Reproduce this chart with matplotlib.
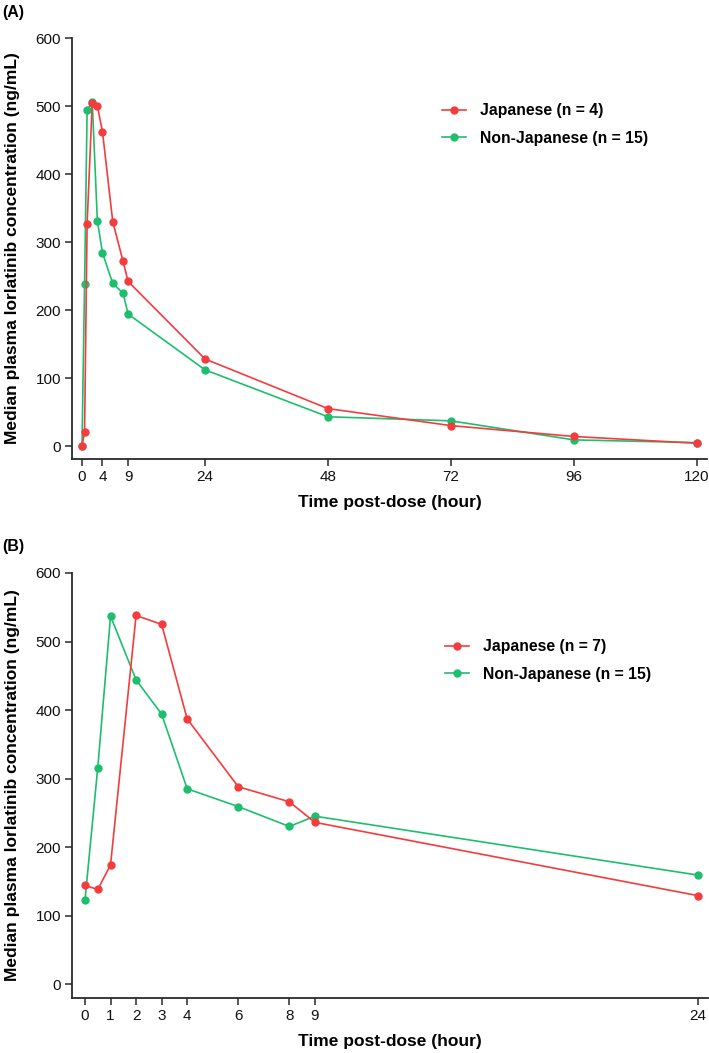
import matplotlib
matplotlib.use("Agg")
import matplotlib.pyplot as plt
from matplotlib import font_manager

names = {f.name for f in font_manager.fontManager.ttflist}
FONT = "Liberation Sans" if "Liberation Sans" in names else "DejaVu Sans"
plt.rcParams['font.family'] = [FONT, 'DejaVu Sans']

# ---------------- data ----------------
# Panel A
time_a = [0, 0.5, 1, 2, 3, 4, 6, 8, 9, 24, 48, 72, 96, 120]
jap_a = [0, 20, 327, 505, 500, 462, 330, 272, 242, 128, 55, 30, 14, 4]
nonjap_a = [0, 238, 494, 506, 331, 284, 239, 225, 194, 112, 43, 37, 9, 5]
xticks_a = [0, 4, 9, 24, 48, 72, 96, 120]
labels_a = ["Japanese (n = 4)", "Non-Japanese (n = 15)"]

# Panel B
time_b = [0, 0.5, 1, 2, 3, 4, 6, 8, 9, 24]
jap_b = [144, 138, 174, 538, 525, 387, 288, 266, 236, 129]
nonjap_b = [123, 316, 537, 444, 394, 285, 259, 230, 245, 159]
xticks_b = [0, 1, 2, 3, 4, 6, 8, 9, 24]
labels_b = ["Japanese (n = 7)", "Non-Japanese (n = 15)"]

yticks = [0, 100, 200, 300, 400, 500, 600]

RED = "#F43C3E"
GREEN = "#1DBF6E"

W, H = 709, 1053
fig = plt.figure(figsize=(W / 100, H / 100), dpi=100)


def px_axes(l, r, t, b):
    return fig.add_axes([l / W, 1 - b / H, (r - l) / W, (b - t) / H])


def style(ax, xlim, ylim, xticks):
    ax.set_xlim(*xlim)
    ax.set_ylim(*ylim)
    ax.set_xticks(xticks)
    ax.set_xticklabels([str(v) for v in xticks])
    ax.set_yticks(yticks)
    ax.set_yticklabels([str(v) for v in yticks])
    for s in ["top", "right"]:
        ax.spines[s].set_visible(False)
    for s in ["left", "bottom"]:
        ax.spines[s].set_linewidth(1.3)
        ax.spines[s].set_color("#2a2a2a")
    ax.tick_params(direction="out", length=5, width=1.1, color="#2a2a2a",
                   labelsize=11, pad=3, labelcolor="#111111")
    ax.set_xlabel("Time post-dose (hour)", fontsize=12.5, fontweight="bold",
                  labelpad=8)


def draw(ax, t, j, n, labels, legend_anchor):
    ax.plot(t, j, color=RED, lw=1.2, marker="o", ms=5, mec=RED, mfc=RED,
            clip_on=False, zorder=3, label=labels[0])
    ax.plot(t, n, color=GREEN, lw=1.2, marker="o", ms=5, mec=GREEN, mfc=GREEN,
            clip_on=False, zorder=2, label=labels[1])
    leg = ax.legend(loc="upper left", bbox_to_anchor=legend_anchor,
                    bbox_transform=fig.transFigure, frameon=False,
                    prop={"weight": "bold", "size": 11.3}, handlelength=1.5,
                    handletextpad=0.9, labelspacing=0.8, borderaxespad=0,
                    borderpad=0)
    return leg


# Panel A
axA = px_axes(72, 707, 38, 459)
style(axA, (-1.95, 121.95), (-19.1, 600), xticks_a)
draw(axA, time_a, jap_a, nonjap_a, labels_a, (442 / W, 1 - 103 / H))

# Panel B
axB = px_axes(72, 708, 573, 998)
style(axB, (-0.509, 24.39), (-20.4, 600), xticks_b)
draw(axB, time_b, jap_b, nonjap_b, labels_b, (445 / W, 1 - 639 / H))

ylab = "Median plasma lorlatinib concentration (ng/mL)"
fig.text(13 / W, 1 - 248 / H, ylab, rotation=90, fontsize=12.5,
         fontweight="bold", ha="center", va="center")
fig.text(13 / W, 1 - 785 / H, ylab, rotation=90, fontsize=12.5,
         fontweight="bold", ha="center", va="center")

fig.text(2 / W, 1 - 13 / H, "(A)", fontsize=11.5, fontweight="bold",
         ha="left", va="center")
fig.text(2 / W, 1 - 547 / H, "(B)", fontsize=11.5, fontweight="bold",
         ha="left", va="center")

fig.savefig("out.png", dpi=100, facecolor="white")
